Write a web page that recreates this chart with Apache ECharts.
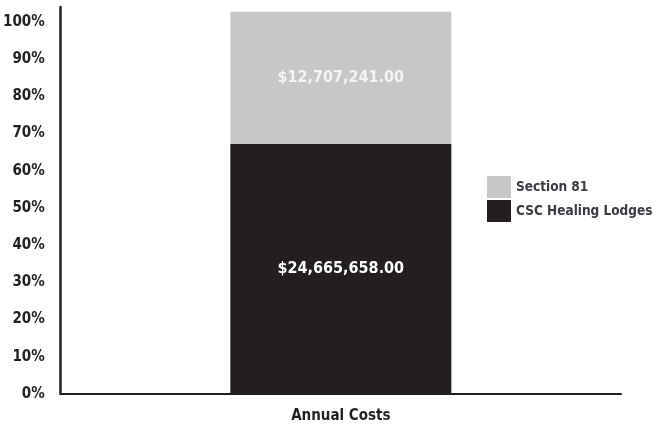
<!DOCTYPE html>
<html>
<head>
<meta charset="utf-8">
<script src="https://cdn.jsdelivr.net/npm/echarts@6/dist/echarts.min.js"></script>
<style>
  html, body { margin: 0; padding: 0; background: #fff; }
  #chart { width: 656px; height: 431px; }
</style>
</head>
<body>
<div id="chart"></div>
<script>
// data (share of the bar, in %)
const categories = ['Annual Costs'];
const seriesNames = ['CSC Healing Lodges', 'Section 81'];
const cscShare = [67.2];
const s81Share = [35.5];
const cscLabels = ['$24,665,658.00'];
const s81Labels = ['$12,707,241.00'];

const FONT = '"Liberation Sans Narrow", "DejaVu Sans Condensed", sans-serif';
const DARK = '#231f20';
const GREY = '#c6c7c9';

const chart = echarts.init(document.getElementById('chart'));
chart.setOption({
  animation: false,
  grid: { left: 60, right: 35, top: 7, bottom: 37 },
  legend: {
    data: ['Section 81', 'CSC Healing Lodges'],
    orient: 'vertical',
    left: 482,
    top: 171,
    icon: 'rect',
    itemWidth: 24,
    itemHeight: 22,
    itemGap: 2,
    textStyle: { fontFamily: FONT, fontWeight: 'bold', fontSize: 13.5, color: '#3a3a40' },
  },
  xAxis: {
    type: 'category',
    data: categories,
    axisLine: { lineStyle: { color: DARK, width: 2 } },
    axisTick: { show: false },
    axisLabel: {
      margin: 15,
      fontFamily: FONT,
      fontWeight: 'bold',
      fontSize: 15,
      color: DARK,
    },
  },
  yAxis: {
    type: 'value',
    min: 0,
    max: 104,
    interval: 10,
    splitLine: { show: false },
    axisTick: { show: false },
    axisLine: { show: true, lineStyle: { color: DARK, width: 2.5 } },
    axisLabel: {
      margin: 16,
      fontFamily: FONT,
      fontWeight: 'bold',
      fontSize: 15,
      color: DARK,
      formatter: v => (v > 100 ? '' : v + '%'),
    },
  },
  series: [
    {
      name: seriesNames[0],
      type: 'bar',
      stack: 'total',
      barWidth: 221,
      data: cscShare,
      itemStyle: { color: DARK },
      label: {
        show: true,
        position: 'inside',
        formatter: p => cscLabels[p.dataIndex],
        fontFamily: FONT,
        fontWeight: 'bold',
        fontSize: 16,
        color: '#ffffff',
      },
    },
    {
      name: seriesNames[1],
      type: 'bar',
      stack: 'total',
      barWidth: 221,
      data: s81Share,
      itemStyle: { color: GREY },
      label: {
        show: true,
        position: 'inside',
        formatter: p => s81Labels[p.dataIndex],
        fontFamily: FONT,
        fontWeight: 'bold',
        fontSize: 16,
        color: '#f4f4f4',
      },
    },
  ],
});
</script>
</body>
</html>
